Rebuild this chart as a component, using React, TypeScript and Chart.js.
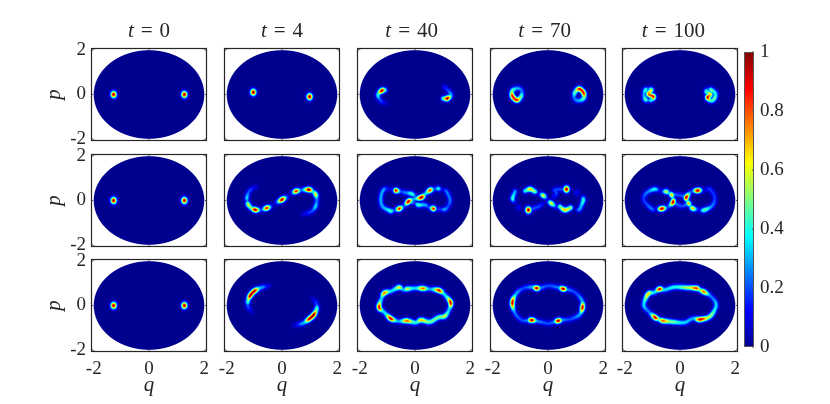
import React, { useEffect, useRef } from "react";
import { Chart, registerables } from "chart.js";

Chart.register(...registerables);

type Pt = [number, number, number];
type Ridge = Pt[];

const timeLabels = [0, 4, 40, 70, 100];
const axisTicks = [-2, 0, 2];
const colorbarTicks = [0, 0.2, 0.4, 0.6, 0.8, 1];
const jetStops: [number, string][] = [
  [0, "rgb(0,0,143)"],
  [0.125, "rgb(0,0,255)"],
  [0.375, "rgb(0,255,255)"],
  [0.625, "rgb(255,255,0)"],
  [0.875, "rgb(255,0,0)"],
  [1, "rgb(128,0,0)"],
];

// every ridge is a list of [q, p, value]
const rowA_t0: Ridge[] = [[[-1.28, 0, 1]], [[1.28, 0, 1]]];
const rowA_t4: Ridge[] = [[[-1.04, 0.1, 1]], [[1.0, -0.1, 1]]];
const rowA_t40: Ridge[] = [
  [[-1.1, 0.2, 0.5], [-1.2, 0.175, 1], [-1.34, -0.02, 0.4], [-1.24, -0.28, 0.2], [-1.05, -0.4, 0.06]],
  [[1.08, 0.33, 0.15], [1.3, 0, 0.3], [1.17, -0.175, 1], [1.03, -0.18, 0.5]],
];
const rowA_t70: Ridge[] = [
  [[-1.29, -0.07, 0.9], [-1.13, -0.25, 0.9], [-0.98, -0.1, 0.5], [-0.95, 0.16, 0.25], [-1.1, 0.28, 0.3], [-1.29, 0.17, 0.5], [-1.29, -0.07, 0.9]],
  [[1.29, 0.07, 0.9], [1.13, 0.25, 0.9], [0.98, 0.1, 0.5], [0.95, -0.16, 0.25], [1.1, -0.28, 0.3], [1.29, -0.17, 0.5], [1.29, 0.07, 0.9]],
];
const rowA_t100: Ridge[] = [
  [[-1.3, 0, 0.3], [-1.25, 0.2, 0.45], [-1.15, 0.24, 0.25], [-1.04, 0.2, 0.6], [-1.14, 0.02, 0.8], [-0.96, -0.1, 0.9], [-1.04, -0.25, 0.4], [-1.15, -0.25, 0.25], [-1.25, -0.22, 0.5], [-1.3, 0, 0.3]],
  [[0.95, 0.13, 0.45], [1.05, 0.22, 0.25], [1.13, 0.2, 0.5], [1.28, 0.05, 0.4], [1.25, -0.17, 0.5], [1.13, -0.28, 0.45], [1.0, -0.13, 0.95], [1.1, 0.0, 0.7], [0.95, 0.13, 0.45]],
];

const rowB_t0: Ridge[] = [[[-1.28, 0, 1]], [[1.28, 0, 1]]];
const rowB_t4: Ridge[] = [
  [[-0.93, 0.63, 0.08], [-1.17, 0.45, 0.2], [-1.27, 0.13, 0.35], [-1.25, -0.05, 0.25], [-1.23, -0.17, 0.6], [-1.12, -0.33, 0.5], [-0.97, -0.42, 1], [-0.75, -0.42, 0.2], [-0.55, -0.34, 0.9], [-0.38, -0.26, 0.12]],
  [[-0.22, -0.12, 0.15], [0, 0.04, 1], [0.17, 0.16, 0.2]],
  [[0.35, 0.33, 0.12], [0.51, 0.42, 0.9], [0.7, 0.47, 0.25], [0.97, 0.49, 1], [1.12, 0.4, 0.4], [1.22, 0.27, 0.65], [1.26, 0.02, 0.25], [1.21, -0.28, 0.35], [1.05, -0.51, 0.2], [0.75, -0.62, 0.08]],
];
const rowB_t40: Ridge[] = [
  [[-0.88, -0.48, 0.45], [-0.72, -0.44, 0.2], [-0.57, -0.37, 0.9], [-0.4, -0.25, 0.2], [-0.24, -0.05, 1], [-0.05, 0.06, 0.3], [0.23, 0.14, 1], [0.38, 0.3, 0.35], [0.54, 0.46, 0.85], [0.7, 0.52, 0.2], [0.84, 0.54, 0.4]],
  [[-0.69, 0.45, 0.95], [-0.5, 0.4, 0.2], [-0.36, 0.36, 0.25], [-0.12, 0.3, 0.45], [0.05, 0.15, 0.2], [0.23, 0.14, 0.6]],
  [[0.67, -0.37, 0.95], [0.5, -0.3, 0.2], [0.36, -0.2, 0.3], [0.12, -0.2, 0.45], [0, -0.1, 0.2], [-0.24, -0.05, 0.6]],
  [[-0.69, 0.45, 0.3], [-0.95, 0.52, 0.1], [-1.14, 0.48, 0.3], [-1.24, 0.1, 0.3], [-1.17, -0.28, 0.3], [-0.88, -0.48, 0.45]],
  [[0.84, 0.54, 0.4], [1.0, 0.48, 0.1], [1.14, 0.4, 0.25], [1.27, 0.02, 0.25], [1.2, -0.25, 0.2], [1.08, -0.4, 0.3], [0.85, -0.4, 0.15], [0.67, -0.37, 0.5]],
];
const rowB_t70: Ridge[] = [
  [[-0.83, 0.43, 0.4], [-0.65, 0.51, 0.7], [-0.47, 0.4, 0.5]],
  [[0.43, -0.28, 0.5], [0.61, -0.43, 0.7], [0.82, -0.33, 0.55]],
  [[-0.71, -0.43, 1]],
  [[0.67, 0.51, 1]],
  [[-0.3, 0.3, 0.15], [-0.17, 0.22, 0.65], [-0.05, 0.1, 0.15]],
  [[0.3, -0.3, 0.15], [0.12, -0.13, 0.65], [0.0, -0.02, 0.15]],
  [[-1.19, 0.4, 0.3], [-1.28, 0.1, 0.45], [-1.22, -0.05, 0.15]],
  [[1.1, -0.42, 0.25], [1.16, -0.36, 0.3], [1.28, 0.02, 0.45], [1.24, 0.15, 0.15]],
  [[-1.07, -0.31, 0.12]],
  [[1.04, 0.36, 0.12]],
  [[-0.71, -0.43, 0.2], [-0.35, -0.28, 0.2], [-0.2, -0.15, 0.12]],
  [[0.67, 0.51, 0.2], [0.25, 0.48, 0.2], [0.31, 0.33, 0.2], [0.2, 0.15, 0.12]],
];
const rowB_t100: Ridge[] = [
  [[-0.92, 0.51, 0.4], [-1.22, 0.33, 0.25], [-1.31, 0.02, 0.18], [-1.04, -0.36, 0.25], [-0.85, -0.4, 0.12], [-0.66, -0.37, 1], [-0.45, -0.3, 0.2], [-0.25, -0.07, 1], [-0.27, 0.1, 0.3], [-0.3, 0.25, 0.7], [-0.4, 0.33, 0.3], [-0.5, 0.4, 0.6], [-0.7, 0.42, 0.1], [-0.92, 0.51, 0.4]],
  [[0.64, 0.45, 1], [0.42, 0.4, 0.2], [0.23, 0.14, 1], [0.27, 0.0, 0.35], [0.31, -0.13, 0.7], [0.38, -0.25, 0.3], [0.46, -0.36, 0.7], [0.68, -0.42, 0.12], [0.89, -0.43, 0.5], [1.19, -0.2, 0.25], [1.25, 0.17, 0.18], [1.07, 0.51, 0.18], [0.85, 0.47, 0.1], [0.64, 0.45, 1]],
  [[-0.25, -0.07, 0.3], [0.05, -0.25, 0.2], [0.31, -0.13, 0.3]],
  [[0.23, 0.14, 0.3], [-0.05, 0.25, 0.2], [-0.3, 0.25, 0.3]],
];

const rowC_t0: Ridge[] = [[[-1.28, 0, 1]], [[1.28, 0, 1]]];
const rowC_t4: Ridge[] = [
  [[-0.45, 0.89, 0.08], [-0.75, 0.81, 0.3], [-0.99, 0.66, 0.95], [-1.15, 0.45, 1], [-1.23, 0.22, 0.5], [-1.23, -0.05, 0.2], [-1.09, -0.31, 0.06]],
  [[0.45, -0.89, 0.08], [0.75, -0.81, 0.3], [0.99, -0.6, 0.95], [1.15, -0.42, 1], [1.25, -0.18, 0.5], [1.25, 0.08, 0.2], [1.09, 0.34, 0.06]],
];
const rowC_t40: Ridge[] = [
  [[-1.3, -0.08, 0.95], [-1.22, 0.3, 0.35], [-1.11, 0.56, 0.8], [-0.84, 0.66, 0.35], [-0.58, 0.82, 0.65], [-0.42, 0.71, 0.3], [-0.28, 0.75, 0.6], [0, 0.78, 0.35], [0.28, 0.77, 0.8], [0.54, 0.74, 0.3], [0.87, 0.68, 0.9], [1.08, 0.48, 0.35], [1.29, 0.13, 0.95], [1.23, -0.2, 0.35], [1.08, -0.48, 0.6], [0.84, -0.54, 0.5], [0.54, -0.74, 0.5], [0.22, -0.66, 0.7], [0.02, -0.77, 0.4], [-0.3, -0.69, 0.8], [-0.6, -0.71, 0.3], [-0.88, -0.59, 0.95], [-1.11, -0.31, 0.35], [-1.3, -0.08, 0.95]],
];
const rowC_t70: Ridge[] = [
  [[-1.29, 0.14, 0.95], [-1.13, 0.56, 0.3], [-0.89, 0.78, 0.2], [-0.59, 0.83, 0.3], [-0.41, 0.78, 1], [-0.25, 0.8, 0.25], [0.01, 0.89, 0.2], [0.35, 0.82, 0.25], [0.55, 0.75, 1], [0.72, 0.72, 0.25], [0.98, 0.59, 0.2], [1.22, 0.25, 0.3], [1.25, -0.08, 0.95], [1.13, -0.43, 0.3], [0.8, -0.62, 0.2], [0.55, -0.65, 0.25], [0.37, -0.69, 1], [0.2, -0.75, 0.25], [0, -0.81, 0.2], [-0.35, -0.72, 0.25], [-0.59, -0.66, 1], [-0.75, -0.68, 0.25], [-0.95, -0.66, 0.2], [-1.19, -0.36, 0.25], [-1.29, 0.14, 0.95]],
];
const rowC_t100: Ridge[] = [
  [[-1.31, 0.02, 0.35], [-1.16, 0.51, 0.7], [-0.92, 0.6, 0.35], [-0.74, 0.74, 0.95], [-0.56, 0.71, 0.35], [-0.2, 0.83, 0.4], [0.22, 0.81, 0.55], [0.59, 0.78, 0.85], [0.72, 0.7, 0.5], [0.86, 0.62, 0.8], [1.13, 0.4, 0.25], [1.31, 0.02, 0.35], [1.1, -0.48, 0.55], [0.73, -0.63, 0.95], [0.46, -0.59, 0.3], [0.16, -0.77, 0.35], [-0.26, -0.74, 0.5], [-0.62, -0.69, 0.8], [-0.76, -0.62, 0.5], [-0.9, -0.54, 0.95], [-1.13, -0.28, 0.25], [-1.31, 0.02, 0.35]],
];

const panelData: Ridge[][][] = [
  [rowA_t0, rowA_t4, rowA_t40, rowA_t70, rowA_t100],
  [rowB_t0, rowB_t4, rowB_t40, rowB_t70, rowB_t100],
  [rowC_t0, rowC_t4, rowC_t40, rowC_t70, rowC_t100],
];

const colLefts = [91, 224, 357, 490, 622];
const rowTops = [48, 154, 259];
const PLOT_W = 116;
const PLOT_H = 93;
const BLOB_SIG_X = 2.0;
const BLOB_SIG_Y = 2.3;
const RIDGE_SIG_X = 1.7;
const RIDGE_SIG_Y = 1.85;
const SUBDIV = 5;
const FONT = '"Liberation Serif", serif';
const INK = "#262626";

function jetRgb(v: number): [number, number, number] {
  const t = Math.max(0, Math.min(1, v));
  const parsed = jetStops.map(([s, c]) => [s, ...c.slice(4, -1).split(",").map(Number)]);
  for (let i = 1; i < parsed.length; i++) {
    if (t <= parsed[i][0]) {
      const a = parsed[i - 1];
      const b = parsed[i];
      const f = (t - a[0]) / (b[0] - a[0]);
      return [a[1] + (b[1] - a[1]) * f, a[2] + (b[2] - a[2]) * f, a[3] + (b[3] - a[3]) * f];
    }
  }
  return [128, 0, 0];
}

const catmull = (a: number, b: number, c: number, d: number, t: number) =>
  0.5 * (2 * b + (c - a) * t + (2 * a - 5 * b + 4 * c - d) * t * t + (3 * b - a - 3 * c + d) * t * t * t);

function ridgeSegments(nodes: number[][]): number[][] {
  if (nodes.length === 1) {
    const [x, y, v] = nodes[0];
    return [[x, y, x, y, v, v, BLOB_SIG_X, BLOB_SIG_Y]];
  }
  const n = nodes.length;
  const closed = n > 3 && nodes[0][0] === nodes[n - 1][0] && nodes[0][1] === nodes[n - 1][1];
  const at = (i: number) => {
    if (closed) return nodes[((i % (n - 1)) + (n - 1)) % (n - 1)];
    return nodes[Math.max(0, Math.min(n - 1, i))];
  };
  const out: number[][] = [];
  for (let i = 0; i < n - 1; i++) {
    let prev: number[] | null = null;
    const v0 = nodes[i][2];
    const v1 = nodes[i + 1][2];
    const lo = Math.min(v0, v1);
    const hi = Math.max(v0, v1);
    for (let k = 0; k <= SUBDIV; k++) {
      const t = k / SUBDIV;
      const s = t * t * (3 - 2 * t);
      const w = v0 > v1 ? 1 - s : s;
      const cur = [
        catmull(at(i - 1)[0], at(i)[0], at(i + 1)[0], at(i + 2)[0], t),
        catmull(at(i - 1)[1], at(i)[1], at(i + 1)[1], at(i + 2)[1], t),
        lo + (hi - lo) * Math.pow(w, 1.5),
      ];
      if (prev) out.push([prev[0], prev[1], cur[0], cur[1], prev[2], cur[2], RIDGE_SIG_X, RIDGE_SIG_Y]);
      prev = cur;
    }
  }
  return out;
}

const heatPlugin = {
  id: "heat",
  beforeDatasetsDraw(chart: any) {
    const { ctx, chartArea: a, scales } = chart;
    const w = Math.round(a.right - a.left);
    const h = Math.round(a.bottom - a.top);
    const off = document.createElement("canvas");
    off.width = w;
    off.height = h;
    const octx = off.getContext("2d")!;
    const img = octx.createImageData(w, h);
    const segs: number[][] = [];
    chart.data.datasets.forEach((ds: any, i: number) => {
      const els = chart.getDatasetMeta(i).data;
      const nodes = els.map((el: any, j: number) => [el.x, el.y, ds.data[j].v]);
      segs.push(...ridgeSegments(nodes));
    });
    for (let y = 0; y < h; y++) {
      for (let x = 0; x < w; x++) {
        const px = a.left + x + 0.5;
        const py = a.top + y + 0.5;
        const q = scales.x.getValueForPixel(px);
        const p = scales.y.getValueForPixel(py);
        const r = Math.hypot(q, p);
        const alpha = Math.max(0, Math.min(1, (2 - r) * 24 + 0.5));
        if (alpha <= 0) continue;
        let val = 0;
        for (const [x0, y0, x1, y1, v0, v1, sx, sy] of segs) {
          const ax = (x1 - x0) / sx;
          const ay = (y1 - y0) / sy;
          const bx = (px - x0) / sx;
          const by = (py - y0) / sy;
          const len = ax * ax + ay * ay;
          let t = len > 0 ? (bx * ax + by * ay) / len : 0;
          t = Math.max(0, Math.min(1, t));
          const dx = bx - ax * t;
          const dy = by - ay * t;
          const g = (v0 + (v1 - v0) * t) * Math.exp(-(dx * dx + dy * dy) / 2);
          if (g > val) val = g;
        }
        const [R, G, B] = jetRgb(val);
        const k = (y * w + x) * 4;
        img.data[k] = R;
        img.data[k + 1] = G;
        img.data[k + 2] = B;
        img.data[k + 3] = alpha * 255;
      }
    }
    octx.putImageData(img, 0, 0);
    ctx.drawImage(off, a.left, a.top);
  },
};

const framePlugin = {
  id: "frame",
  afterDraw(chart: any) {
    const { ctx, chartArea: a, scales } = chart;
    ctx.save();
    ctx.strokeStyle = INK;
    ctx.lineWidth = 1.2;
    ctx.strokeRect(a.left + 0.5, a.top + 0.5, a.right - a.left - 1, a.bottom - a.top - 1);
    ctx.lineWidth = 0.8;
    ctx.beginPath();
    for (const t of scales.x.ticks) {
      const x = scales.x.getPixelForValue(t.value);
      ctx.moveTo(x, a.top);
      ctx.lineTo(x, a.top + 2);
      ctx.moveTo(x, a.bottom);
      ctx.lineTo(x, a.bottom - 2);
    }
    for (const t of scales.y.ticks) {
      const y = scales.y.getPixelForValue(t.value);
      ctx.moveTo(a.left, y);
      ctx.lineTo(a.left + 2, y);
      ctx.moveTo(a.right, y);
      ctx.lineTo(a.right - 2, y);
    }
    ctx.stroke();
    const title = chart.options.plugins.title.text;
    if (title) {
      const [sym, eq, val] = title.split(" ");
      const gap = 7;
      ctx.fillStyle = INK;
      ctx.textBaseline = "alphabetic";
      ctx.textAlign = "left";
      ctx.font = `italic 21px ${FONT}`;
      const w1 = ctx.measureText(sym).width;
      ctx.font = `21px ${FONT}`;
      const w2 = ctx.measureText(eq).width;
      const w3 = ctx.measureText(val).width;
      let x = (a.left + a.right) / 2 - (w1 + w2 + w3 + 2 * gap) / 2 - (val.length - 1) * 3.3;
      const y = a.top - 11;
      ctx.font = `italic 21px ${FONT}`;
      ctx.fillText(sym, x, y);
      x += w1 + gap;
      ctx.font = `21px ${FONT}`;
      ctx.fillText(eq, x, y);
      x += w2 + gap;
      ctx.fillText(val, x, y);
    }
    ctx.restore();
  },
};

const colorbarFrame = {
  id: "cbframe",
  afterDraw(chart: any) {
    const { ctx, chartArea: a, scales } = chart;
    ctx.save();
    ctx.strokeStyle = "#555";
    ctx.lineWidth = 1;
    ctx.strokeRect(a.left + 0.5, a.top + 0.5, a.right - a.left - 1, a.bottom - a.top - 1);
    ctx.beginPath();
    for (const t of scales.y.ticks) {
      const y = scales.y.getPixelForValue(t.value);
      ctx.moveTo(a.right, y);
      ctx.lineTo(a.right - 2, y);
    }
    ctx.stroke();
    ctx.restore();
  },
};

function Panel({ row, col }: { row: number; col: number }) {
  const ref = useRef<HTMLCanvasElement>(null);
  const L = col === 0 ? 55 : 14;
  const T = row === 0 ? 40 : 20;
  const B = row === 2 ? 50 : 20;
  const R = 14;
  const cw = L + PLOT_W + R;
  const ch = T + PLOT_H + B;
  useEffect(() => {
    const chart = new Chart(ref.current!, {
      type: "scatter",
      data: {
        datasets: panelData[row][col].map((ridge) => ({
          data: ridge.map(([x, y, v]) => ({ x, y, v })) as any,
          pointRadius: 0,
          showLine: false,
        })),
      },
      plugins: [heatPlugin, framePlugin],
      options: {
        animation: false,
        responsive: false,
        devicePixelRatio: 1,
        layout: { autoPadding: false, padding: { top: T, right: R, left: 0, bottom: 0 } },
        plugins: {
          legend: { display: false },
          tooltip: { enabled: false },
          title: { display: false, text: row === 0 ? `t = ${timeLabels[col]}` : "" },
        },
        scales: {
          x: {
            type: "linear",
            min: -2.1,
            max: 2.1,
            afterBuildTicks: (s: any) => { s.ticks = axisTicks.map((value) => ({ value })); },
            afterFit: (s: any) => { s.height = B; },
            grid: { display: false, drawTicks: false },
            border: { display: false },
            ticks: {
              display: row === 2,
              color: INK,
              padding: 6,
              maxRotation: 0,
              autoSkip: false,
              font: { family: FONT, size: 19 },
              callback: (v: any) => String(v),
            },
            title: {
              display: row === 2,
              text: "q",
              color: INK,
              padding: { top: 0, bottom: 4 },
              font: { family: FONT, size: 21, style: "italic" },
            },
          },
          y: {
            type: "linear",
            min: -2.1,
            max: 2.1,
            afterBuildTicks: (s: any) => { s.ticks = axisTicks.map((value) => ({ value })); },
            afterFit: (s: any) => { s.width = L; },
            grid: { display: false, drawTicks: false },
            border: { display: false },
            ticks: {
              display: col === 0,
              color: INK,
              padding: 5,
              autoSkip: false,
              font: { family: FONT, size: 19 },
              callback: (v: any) => String(v),
            },
            title: {
              display: col === 0,
              text: "p",
              color: INK,
              padding: { top: 6, bottom: 0 },
              font: { family: FONT, size: 21, style: "italic" },
            },
          },
        },
      } as any,
    });
    return () => chart.destroy();
  }, []);
  return (
    <canvas
      ref={ref}
      width={cw}
      height={ch}
      style={{ position: "absolute", left: colLefts[col] - L, top: rowTops[row] - T, width: cw, height: ch }}
    />
  );
}

function Colorbar() {
  const ref = useRef<HTMLCanvasElement>(null);
  useEffect(() => {
    const chart = new Chart(ref.current!, {
      type: "bar",
      data: {
        labels: ["colour"],
        datasets: [
          {
            data: [[0, 1]] as any,
            barPercentage: 1,
            categoryPercentage: 1,
            backgroundColor: (c: any) => {
              const a = c.chart.chartArea;
              if (!a) return "#000";
              const g = c.chart.ctx.createLinearGradient(0, a.bottom, 0, a.top);
              jetStops.forEach(([s, col]) => g.addColorStop(s, col));
              return g;
            },
          },
        ],
      },
      plugins: [colorbarFrame],
      options: {
        animation: false,
        responsive: false,
        devicePixelRatio: 1,
        layout: { autoPadding: false, padding: { top: 22, bottom: 22, left: 4, right: 0 } },
        plugins: { legend: { display: false }, tooltip: { enabled: false } },
        scales: {
          x: { display: false },
          y: {
            position: "right",
            min: 0,
            max: 1,
            afterBuildTicks: (s: any) => { s.ticks = colorbarTicks.map((value) => ({ value })); },
            afterFit: (s: any) => { s.width = 50; },
            grid: { display: false, drawTicks: false },
            border: { display: false },
            ticks: {
              color: INK,
              padding: 6,
              autoSkip: false,
              font: { family: FONT, size: 19 },
              callback: (v: any) => String(v),
            },
          },
        },
      } as any,
    });
    return () => chart.destroy();
  }, []);
  return (
    <canvas
      ref={ref}
      width={64}
      height={339}
      style={{ position: "absolute", left: 740, top: 30, width: 64, height: 339 }}
    />
  );
}

export default function App() {
  return (
    <div style={{ position: "absolute", left: 0, top: 0, width: 830, height: 404, background: "#fff", overflow: "hidden" }}>
      {panelData.map((r, row) => r.map((_, col) => <Panel key={`${row}-${col}`} row={row} col={col} />))}
      <Colorbar />
    </div>
  );
}
